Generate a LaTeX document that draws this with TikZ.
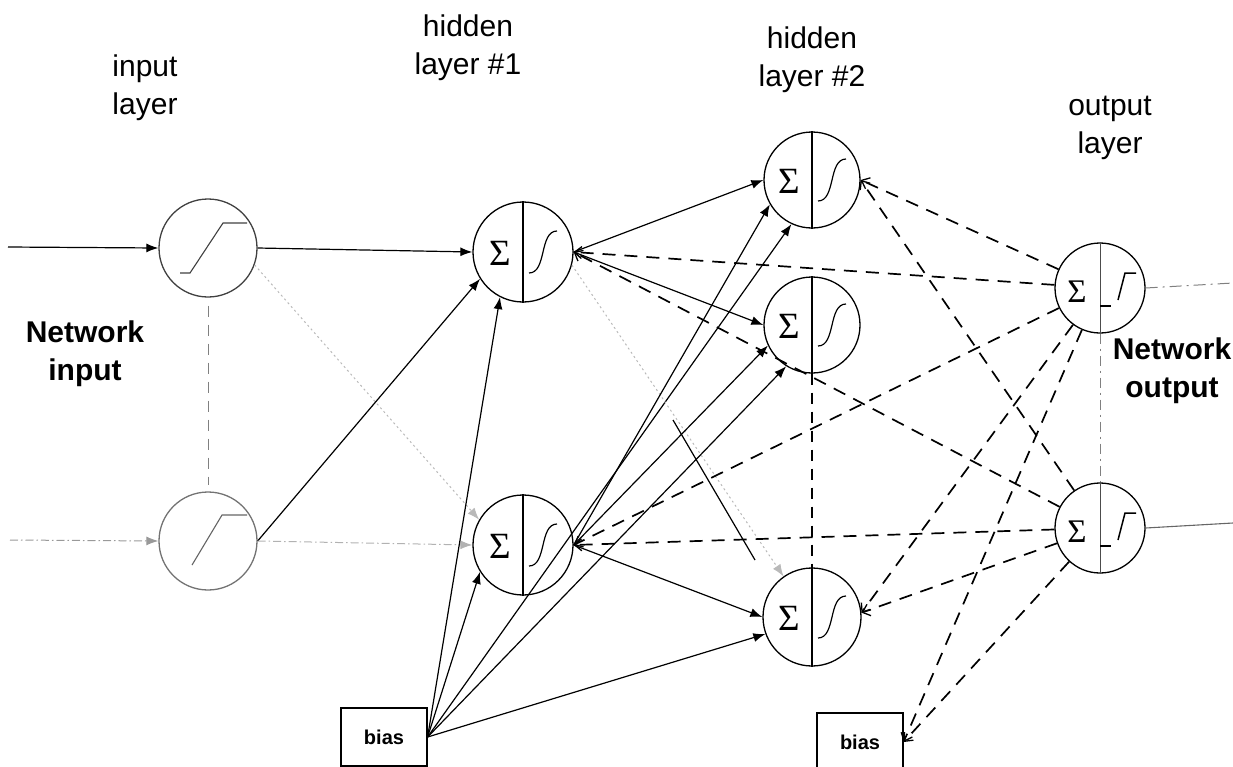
\documentclass[tikz,border=0pt]{standalone}
\usepackage{fontspec}
\setmainfont{Liberation Sans}
\newfontfamily\sigmafont{Liberation Serif}
\usetikzlibrary{arrows.meta,calc}
\begin{document}
\begin{tikzpicture}[x=1pt,y=-1pt,
 neuron/.style={circle,draw,line width=1.3pt,inner sep=0pt},
 sol/.style={line width=1.2pt,-{Latex[length=12pt,width=9pt]}},
 faint/.style={gray!60,line width=1pt,dash pattern=on 8pt off 3pt on 1.5pt off 3pt,-{Latex[length=12pt,width=9pt]}},
 faintdot/.style={gray!55,line width=1pt,dash pattern=on 2pt off 3pt,-{Latex[length=12pt,width=9pt]}},
 fb/.style={line width=1.7pt,dash pattern=on 13pt off 9pt,-{Straight Barb[length=7pt,width=12pt,line width=1.3pt]}},
 vdash/.style={line width=1pt,dash pattern=on 11pt off 8pt},
 lab/.style={font=\fontsize{30}{38}\selectfont,align=center},
 blab/.style={font=\fontsize{30}{38}\selectfont\bfseries,align=center},
 biasbox/.style={draw,line width=1.2pt,minimum width=86pt,minimum height=58pt,font=\fontsize{20}{24}\selectfont\bfseries},
 sig/.style={font=\sigmafont\fontsize{37}{37}\selectfont,inner sep=0pt},
 osig/.style={font=\sigmafont\fontsize{33}{33}\selectfont,inner sep=0pt},
]
\useasboundingbox (0,0) rectangle (1233,766);

% labels
\node[lab] (Linput) at (145,88) {input\\layer};
\node[lab] (Lh1) at (468,48) {hidden\\layer \#1};
\node[lab] (Lh2) at (812,60) {hidden\\layer \#2};
\node[lab] (Lout) at (1110,128) {output\\layer};
\node[blab] (Lnin) at (85,354) {Network\\input};
\node[blab] (Lnout) at (1172,371) {Network\\output};

% neurons
\node[neuron,minimum size=98pt,draw=black!75] (I1) at (208,248) {};
\node[neuron,minimum size=98pt,draw=black!55] (I2) at (208,541) {};
\node[neuron,minimum size=100pt] (H1a) at (523,252) {};
\node[neuron,minimum size=100pt] (H1b) at (523,545) {};
\node[neuron,minimum size=96pt] (H2a) at (812,180) {};
\node[neuron,minimum size=96pt] (H2b) at (812,325) {};
\node[neuron,minimum size=98pt] (H2c) at (812,617) {};
\node[neuron,minimum size=90pt] (O1) at (1100,288) {};
\node[neuron,minimum size=90pt] (O2) at (1100,528) {};

% bias boxes
\node[biasbox] (B1) at (384,737) {bias};
\node[biasbox] (B2) at (860,742) {bias};

% internals of hidden neurons
\foreach \n in {H1a,H1b,H2a,H2b,H2c}{
  \draw[line width=1.3pt] (\n.north) -- (\n.south);
  \node[sig] (\n-s) at ($(\n)+(-23,1)$) {Σ};
  \draw[line width=1.2pt] ($(\n)+(6,21)$) .. controls ($(\n)+(24,21)$) and ($(\n)+(16,-21)$) .. ($(\n)+(34,-21)$);
}
% input ramps
\draw[line width=1.1pt,black!75] ($(I1)+(-28,25)$) -- ($(I1)+(-18,25)$) -- ($(I1)+(15,-25)$) -- ($(I1)+(39,-25)$);
\draw[line width=1.1pt,black!60] ($(I2)+(-16,24)$) -- ($(I2)+(14,-26)$) -- ($(I2)+(39,-26)$);
% output neurons
\foreach \n in {O1,O2}{
  \draw[line width=1pt,black!70] (\n.north) -- (\n.south);
  \node[osig] (\n-s) at ($(\n)+(-23,4)$) {Σ};
  \draw[line width=1.2pt] ($(\n)+(0,18)$) -- ($(\n)+(11,18)$);
  \draw[line width=1.5pt] ($(\n)+(18,12)$) -- ($(\n)+(25,-15)$) -- ($(\n)+(36,-15)$);
}

% network inputs
\coordinate (in1) at (8,247);
\coordinate (in2) at (10,540);
\draw[sol] (in1) -- (I1.west);
\draw[faint,gray!80] (in2) -- (I2.west);

% input -> hidden 1
\draw[sol] (I1.east) -- (H1a.west);
\draw[faintdot] (I1.-20) -- (H1b.150);
\draw[sol] (I2.east) -- (H1a.212);
\draw[faint] (I2.east) -- (H1b.west);

% bias 1
\draw[sol] (B1.east) -- (H1a.243);
\draw[sol] (B1.east) -- (H1b.212);
\draw[sol] (B1.east) -- (H2a.245);
\draw[sol] (B1.east) -- (H2b.238);
\draw[sol] (B1.east) -- (H2c.200);

% hidden 1 -> hidden 2
\draw[sol] (H1a.east) -- (H2a.west);
\draw[sol] (H1a.east) -- (H2b.west);
\draw[faintdot] (H1a.-15) -- (H2c.125);
\draw[sol] (H1b.east) -- (H2a.210);
\draw[sol] (H1b.east) -- (H2b.205);
\draw[sol] (H1b.east) -- (H2c.west);

% stray segment
\coordinate (s1) at (673,420);
\coordinate (s2) at (755,560);
\draw[line width=1.2pt] (s1) -- (s2);

% feedback (dashed)
\draw[fb] (O1) -- (H1a.east);
\draw[fb] (O1) -- (H1b.east);
\draw[fb] (O1) -- (H2a.east);
\draw[fb] (O1) -- (H2c.5);
\draw[fb] (O1) -- (B2.east);
\draw[fb] (O2) -- (H1a.east);
\draw[fb] (O2) -- (H1b.east);
\draw[fb] (O2) -- (H2a.east);
\draw[fb] (O2) -- (H2c.5);
\draw[fb] (O2) -- (B2.east);

% vertical "more neurons" lines
\path (I1.south) ++(0,8) coordinate (i1s);
\path (I2.north) ++(0,-6) coordinate (i2n);
\draw[vdash,gray] (i1s) -- (i2n);
\draw[vdash,line width=1.4pt] (H2b.south) -- (H2c.north);
\draw[gray,line width=1pt,dash pattern=on 10pt off 5pt on 2pt off 5pt] (O1.south) -- (O2.north);

% network outputs
\coordinate (out1) at (1233,283);
\coordinate (out2) at (1233,523);
\draw[gray,line width=1pt,dash pattern=on 12pt off 5pt on 2pt off 5pt] (O1.east) -- (out1);
\draw[black!60,line width=1.1pt] (O2.east) -- (out2);
\end{tikzpicture}
\end{document}
